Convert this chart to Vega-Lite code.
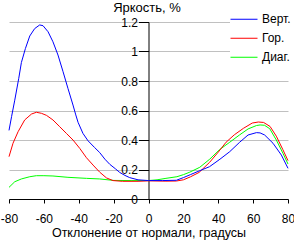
{
  "$schema": "https://vega.github.io/schema/vega-lite/v6.json",
  "width": 279,
  "height": 177,
  "autosize": {"type": "none"},
  "padding": {"left": 9, "top": 22, "right": 6, "bottom": 41},
  "background": "white",
  "view": {"stroke": null},
  "config": {
    "font": "Liberation Sans",
    "axis": {"labelFont": "Liberation Sans", "titleFont": "Liberation Sans", "labelColor": "black", "titleColor": "black", "titleFontWeight": "normal"},
    "legend": {"labelFont": "Liberation Sans"}
  },
  "data": {
    "values": [
      {"angle": -80, "value": 0.079, "series": "Диаг."},
      {"angle": -76.7, "value": 0.117, "series": "Диаг."},
      {"angle": -72.9, "value": 0.136, "series": "Диаг."},
      {"angle": -68.1, "value": 0.151, "series": "Диаг."},
      {"angle": -64.3, "value": 0.158, "series": "Диаг."},
      {"angle": -60, "value": 0.158, "series": "Диаг."},
      {"angle": -54.8, "value": 0.156, "series": "Диаг."},
      {"angle": -46.2, "value": 0.147, "series": "Диаг."},
      {"angle": -35.6, "value": 0.14, "series": "Диаг."},
      {"angle": -28, "value": 0.136, "series": "Диаг."},
      {"angle": -20, "value": 0.126, "series": "Диаг."},
      {"angle": -10, "value": 0.125, "series": "Диаг."},
      {"angle": 0, "value": 0.125, "series": "Диаг."},
      {"angle": 4.9, "value": 0.13, "series": "Диаг."},
      {"angle": 10, "value": 0.14, "series": "Диаг."},
      {"angle": 16.3, "value": 0.151, "series": "Диаг."},
      {"angle": 20, "value": 0.165, "series": "Диаг."},
      {"angle": 23.7, "value": 0.182, "series": "Диаг."},
      {"angle": 29.4, "value": 0.215, "series": "Диаг."},
      {"angle": 35.1, "value": 0.27, "series": "Диаг."},
      {"angle": 40.8, "value": 0.335, "series": "Диаг."},
      {"angle": 46.6, "value": 0.385, "series": "Диаг."},
      {"angle": 52.3, "value": 0.435, "series": "Диаг."},
      {"angle": 57.1, "value": 0.475, "series": "Диаг."},
      {"angle": 61.9, "value": 0.498, "series": "Диаг."},
      {"angle": 64, "value": 0.502, "series": "Диаг."},
      {"angle": 66.5, "value": 0.5, "series": "Диаг."},
      {"angle": 69.5, "value": 0.477, "series": "Диаг."},
      {"angle": 73.3, "value": 0.4, "series": "Диаг."},
      {"angle": 77.1, "value": 0.31, "series": "Диаг."},
      {"angle": 80, "value": 0.237, "series": "Диаг."},

      {"angle": -80, "value": 0.287, "series": "Гор."},
      {"angle": -77.7, "value": 0.378, "series": "Гор."},
      {"angle": -74.8, "value": 0.456, "series": "Гор."},
      {"angle": -71, "value": 0.536, "series": "Гор."},
      {"angle": -67.1, "value": 0.576, "series": "Гор."},
      {"angle": -64.3, "value": 0.588, "series": "Гор."},
      {"angle": -61.4, "value": 0.581, "series": "Гор."},
      {"angle": -58.5, "value": 0.567, "series": "Гор."},
      {"angle": -54.8, "value": 0.536, "series": "Гор."},
      {"angle": -50.9, "value": 0.49, "series": "Гор."},
      {"angle": -47.1, "value": 0.445, "series": "Гор."},
      {"angle": -43.3, "value": 0.4, "series": "Гор."},
      {"angle": -39.4, "value": 0.343, "series": "Гор."},
      {"angle": -35.6, "value": 0.28, "series": "Гор."},
      {"angle": -31.8, "value": 0.23, "series": "Гор."},
      {"angle": -28, "value": 0.182, "series": "Гор."},
      {"angle": -24.1, "value": 0.143, "series": "Гор."},
      {"angle": -20.4, "value": 0.125, "series": "Гор."},
      {"angle": -15, "value": 0.12, "series": "Гор."},
      {"angle": -6, "value": 0.12, "series": "Гор."},
      {"angle": 0, "value": 0.123, "series": "Гор."},
      {"angle": 10, "value": 0.121, "series": "Гор."},
      {"angle": 16, "value": 0.122, "series": "Гор."},
      {"angle": 20, "value": 0.13, "series": "Гор."},
      {"angle": 24, "value": 0.15, "series": "Гор."},
      {"angle": 29, "value": 0.18, "series": "Гор."},
      {"angle": 35, "value": 0.248, "series": "Гор."},
      {"angle": 40, "value": 0.318, "series": "Гор."},
      {"angle": 44.5, "value": 0.385, "series": "Гор."},
      {"angle": 49.2, "value": 0.435, "series": "Гор."},
      {"angle": 54.4, "value": 0.479, "series": "Гор."},
      {"angle": 59.5, "value": 0.515, "series": "Гор."},
      {"angle": 63, "value": 0.522, "series": "Гор."},
      {"angle": 66, "value": 0.519, "series": "Гор."},
      {"angle": 69.7, "value": 0.492, "series": "Гор."},
      {"angle": 73.3, "value": 0.426, "series": "Гор."},
      {"angle": 77, "value": 0.336, "series": "Гор."},
      {"angle": 80, "value": 0.26, "series": "Гор."},

      {"angle": -80, "value": 0.465, "series": "Верт."},
      {"angle": -78.5, "value": 0.56, "series": "Верт."},
      {"angle": -76.7, "value": 0.67, "series": "Верт."},
      {"angle": -74.4, "value": 0.818, "series": "Верт."},
      {"angle": -72.9, "value": 0.925, "series": "Верт."},
      {"angle": -70.6, "value": 1.02, "series": "Верт."},
      {"angle": -68.1, "value": 1.105, "series": "Верт."},
      {"angle": -65.3, "value": 1.155, "series": "Верт."},
      {"angle": -62.4, "value": 1.18, "series": "Верт."},
      {"angle": -60.5, "value": 1.175, "series": "Верт."},
      {"angle": -57.6, "value": 1.134, "series": "Верт."},
      {"angle": -54.8, "value": 1.066, "series": "Верт."},
      {"angle": -51.9, "value": 0.976, "series": "Верт."},
      {"angle": -49, "value": 0.863, "series": "Верт."},
      {"angle": -46.2, "value": 0.75, "series": "Верт."},
      {"angle": -43.3, "value": 0.637, "series": "Верт."},
      {"angle": -41.7, "value": 0.57, "series": "Верт."},
      {"angle": -40.4, "value": 0.52, "series": "Верт."},
      {"angle": -37.6, "value": 0.445, "series": "Верт."},
      {"angle": -34.7, "value": 0.395, "series": "Верт."},
      {"angle": -31, "value": 0.35, "series": "Верт."},
      {"angle": -28, "value": 0.315, "series": "Верт."},
      {"angle": -25, "value": 0.27, "series": "Верт."},
      {"angle": -22.2, "value": 0.235, "series": "Верт."},
      {"angle": -19, "value": 0.205, "series": "Верт."},
      {"angle": -16.5, "value": 0.18, "series": "Верт."},
      {"angle": -13.5, "value": 0.16, "series": "Верт."},
      {"angle": -10.8, "value": 0.145, "series": "Верт."},
      {"angle": -6, "value": 0.13, "series": "Верт."},
      {"angle": 0, "value": 0.125, "series": "Верт."},
      {"angle": 8, "value": 0.125, "series": "Верт."},
      {"angle": 16, "value": 0.127, "series": "Верт."},
      {"angle": 20, "value": 0.145, "series": "Верт."},
      {"angle": 24, "value": 0.165, "series": "Верт."},
      {"angle": 29, "value": 0.19, "series": "Верт."},
      {"angle": 35, "value": 0.219, "series": "Верт."},
      {"angle": 41, "value": 0.27, "series": "Верт."},
      {"angle": 46.6, "value": 0.321, "series": "Верт."},
      {"angle": 52.3, "value": 0.385, "series": "Верт."},
      {"angle": 57.1, "value": 0.434, "series": "Верт."},
      {"angle": 61.9, "value": 0.45, "series": "Верт."},
      {"angle": 64, "value": 0.448, "series": "Верт."},
      {"angle": 66.6, "value": 0.434, "series": "Верт."},
      {"angle": 71.4, "value": 0.378, "series": "Верт."},
      {"angle": 76.2, "value": 0.298, "series": "Верт."},
      {"angle": 80, "value": 0.208, "series": "Верт."}
    ]
  },
  "mark": {"type": "line", "strokeWidth": 1, "interpolate": "linear"},
  "encoding": {
    "x": {
      "field": "angle",
      "type": "quantitative",
      "scale": {"domain": [-80, 80], "nice": false, "zero": false},
      "axis": {
        "values": [-80, -60, -40, -20, 0, 20, 40, 60, 80],
        "labelExpr": "'' + datum.value",
        "grid": false,
        "domainColor": "black",
        "tickColor": "black",
        "tickSize": 4,
        "labelFontSize": 12,
        "labelPadding": 10,
        "labelFlush": false,
        "labelOverlap": false,
        "title": "Отклонение от нормали, градусы",
        "titleFontSize": 12.5,
        "titlePadding": 2
      }
    },
    "y": {
      "field": "value",
      "type": "quantitative",
      "scale": {"domain": [0, 1.2], "nice": false},
      "axis": {
        "values": [0, 0.2, 0.4, 0.6, 0.8, 1, 1.2],
        "format": ".1~f",
        "offset": -139.5,
        "grid": true,
        "gridColor": "#c0c0c0",
        "gridOpacity": 1,
        "domainColor": "black",
        "tickColor": "black",
        "tickSize": 10,
        "labelFontSize": 12,
        "labelPadding": 1,
        "labelOverlap": false,
        "title": "Яркость, %",
        "titleFontSize": 13,
        "titleAngle": 0,
        "titleAlign": "center",
        "titleBaseline": "alphabetic",
        "titleX": -2,
        "titleY": -11
      }
    },
    "color": {
      "field": "series",
      "type": "nominal",
      "scale": {"domain": ["Верт.", "Гор.", "Диаг."], "range": ["#0000ff", "#ff0000", "#00ff00"]},
      "legend": {
        "orient": "none",
        "legendX": 221,
        "legendY": -12,
        "direction": "vertical",
        "title": null,
        "symbolType": "stroke",
        "symbolSize": 729,
        "symbolStrokeWidth": 1,
        "labelFontSize": 12,
        "labelColor": "black",
        "labelOffset": 4,
        "clipHeight": 18.5,
        "rowPadding": 0,
        "padding": 0,
        "fillColor": "white"
      }
    }
  }
}
